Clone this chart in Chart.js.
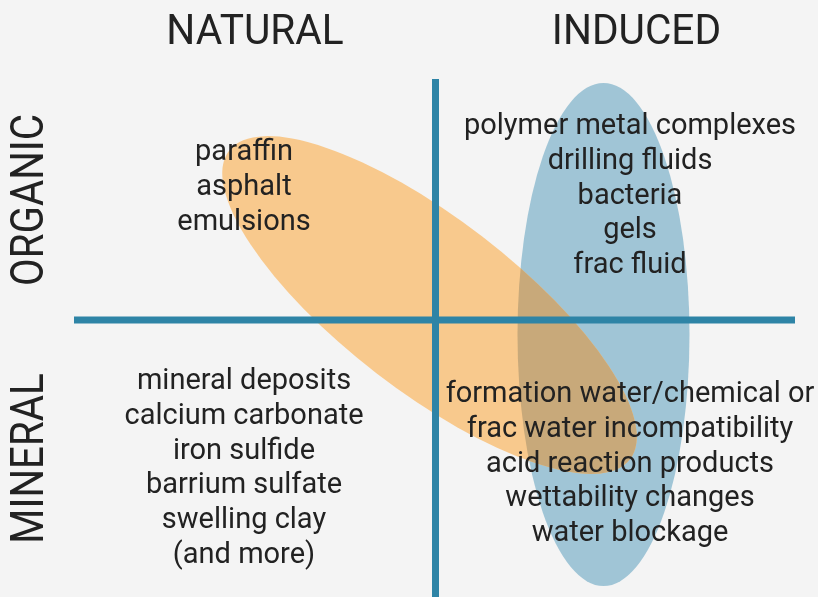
<!DOCTYPE html>
<html>
<head>
<meta charset="utf-8">
<script src="https://cdn.jsdelivr.net/npm/chart.js@4.4.1/dist/chart.umd.min.js"></script>
<style>
  html, body { margin: 0; padding: 0; background: #f4f4f4; }
  #wrap { width: 818px; height: 597px; }
</style>
</head>
<body>
<div id="wrap"><canvas id="c" width="818" height="597"></canvas></div>
<script>
// ---- content ----
const columnLabels = ['NATURAL', 'INDUCED'];
const rowLabels = ['ORGANIC', 'MINERAL'];
const naturalOrganic = ['paraffin', 'asphalt', 'emulsions'];
const inducedOrganic = ['polymer metal complexes', 'drilling fluids', 'bacteria', 'gels', 'frac fluid'];
const naturalMineral = ['mineral deposits', 'calcium carbonate', 'iron sulfide', 'barrium sulfate', 'swelling clay', '(and more)'];
const inducedMineral = ['formation water/chemical or', 'frac water incompatibility', 'acid reaction products', 'wettability changes', 'water blockage'];

// ---- diagram geometry (data units on the hidden 0..818 / 0..597 scales) ----
const dividerV = [{x: 435.5, y: 79}, {x: 435.5, y: 597}];
const dividerH = [{x: 74, y: 320}, {x: 795, y: 320}];
const orangeEllipse = {cx: 429.5, cy: 305, rx: 253, ry: 86.5, angle: 37.6};
const blueEllipse = {cx: 603.5, cy: 334.5, rx: 86, ry: 251.5, angle: 0};

const COLORS = {
  line: '#2e84a6', orange: '#f8c98d', blue: '#a0c5d6', overlap: '#c8a97a', text: '#222222'
};

const layout = {
  headers: [{x: 255, y: 44}, {x: 636.5, y: 44}],
  rows: [{x: 43, y: 200}, {x: 43, y: 458.5}],
  blocks: [
    {items: naturalOrganic, x: 244, y: 160},
    {items: inducedOrganic, x: 630, y: 134},
    {items: naturalMineral, x: 244, y: 389},
    {items: inducedMineral, x: 630, y: 402}
  ],
  lineGap: 34.8
};

function ellipsePath(ctx, chart, e) {
  const xs = chart.scales.x, ys = chart.scales.y;
  const cx = xs.getPixelForValue(e.cx), cy = ys.getPixelForValue(e.cy);
  const rx = Math.abs(xs.getPixelForValue(e.cx + e.rx) - cx);
  const ry = Math.abs(ys.getPixelForValue(e.cy + e.ry) - cy);
  ctx.beginPath();
  ctx.ellipse(cx, cy, rx, ry, e.angle * Math.PI / 180, 0, Math.PI * 2);
}

const shapesPlugin = {
  id: 'shapes',
  beforeDatasetsDraw(chart) {
    const ctx = chart.ctx;
    ctx.save();
    ellipsePath(ctx, chart, blueEllipse);
    ctx.fillStyle = COLORS.blue; ctx.fill();
    ellipsePath(ctx, chart, orangeEllipse);
    ctx.fillStyle = COLORS.orange; ctx.fill();
    // overlap
    ellipsePath(ctx, chart, blueEllipse);
    ctx.clip();
    ellipsePath(ctx, chart, orangeEllipse);
    ctx.fillStyle = COLORS.overlap; ctx.fill();
    ctx.restore();
  },
  afterDatasetsDraw(chart) {
    const ctx = chart.ctx, xs = chart.scales.x, ys = chart.scales.y;
    ctx.save();
    ctx.fillStyle = COLORS.text;
    ctx.textAlign = 'center';
    ctx.textBaseline = 'alphabetic';
    // column headers
    ctx.font = '43px Roboto';
    columnLabels.forEach((t, i) => {
      const p = layout.headers[i];
      ctx.save();
      ctx.translate(xs.getPixelForValue(p.x), ys.getPixelForValue(p.y));
      ctx.scale(0.945, 1);
      ctx.fillText(t, 0, 0);
      ctx.restore();
    });
    // row headers (rotated)
    ctx.font = '46px Roboto';
    rowLabels.forEach((t, i) => {
      const p = layout.rows[i];
      ctx.save();
      ctx.translate(xs.getPixelForValue(p.x), ys.getPixelForValue(p.y));
      ctx.rotate(-Math.PI / 2);
      ctx.scale(0.875, 1);
      ctx.fillText(t, 0, 0);
      ctx.restore();
    });
    // quadrant lists
    ctx.font = '29px Roboto';
    layout.blocks.forEach(b => {
      b.items.forEach((t, i) => {
        ctx.fillText(t, xs.getPixelForValue(b.x), ys.getPixelForValue(b.y + i * layout.lineGap));
      });
    });
    ctx.restore();
  }
};

new Chart(document.getElementById('c'), {
  type: 'scatter',
  data: {
    datasets: [
      {data: dividerV, showLine: true, borderColor: COLORS.line, borderWidth: 7, pointRadius: 0, borderCapStyle: 'butt'},
      {data: dividerH, showLine: true, borderColor: COLORS.line, borderWidth: 7, pointRadius: 0, borderCapStyle: 'butt'}
    ]
  },
  options: {
    responsive: false,
    animation: false,
    layout: {padding: 0},
    plugins: {legend: {display: false}, tooltip: {enabled: false}},
    scales: {
      x: {type: 'linear', min: 0, max: 818, display: false},
      y: {type: 'linear', min: 0, max: 597, reverse: true, display: false}
    }
  },
  plugins: [shapesPlugin]
});
</script>
</body>
</html>
